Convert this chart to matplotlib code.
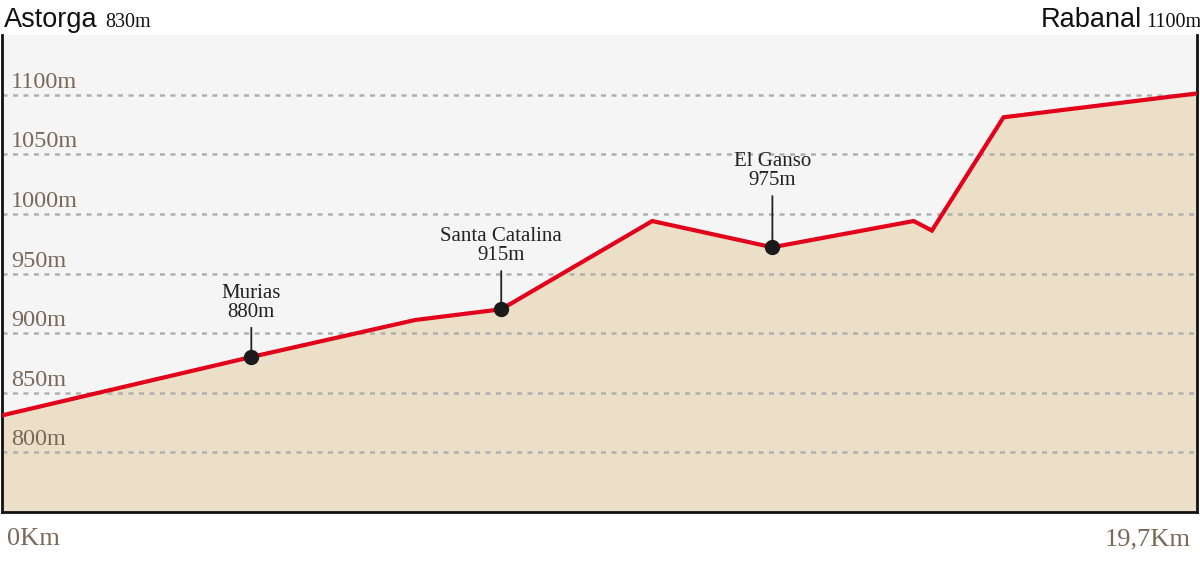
import matplotlib.pyplot as plt
from matplotlib.transforms import offset_copy

# Elevation profile Astorga -> Rabanal
km = [0.0, 4.11, 6.81, 8.23, 10.72, 12.70, 15.03, 15.33, 16.51, 19.7]
alt = [831, 880, 911, 920, 994, 972, 994, 986, 1081, 1101]

# Towns along the way
towns = ['Murias', 'Santa Catalina', 'El Ganso']
town_km = [4.11, 8.23, 12.70]
town_alt = [880, 920, 972]
town_lbl = ['880m', '915m', '975m']
town_off = [32, 41, 54]   # stick length in px

grid_levels = [800, 850, 900, 950, 1000, 1050, 1100]
grid_labels = ['800m', '850m', '900m', '950m', '1000m', '1050m', '1100m']

serif = 'Liberation Serif'
sans = 'Liberation Sans'
brown = '#786958'

fig = plt.figure(figsize=(12, 5.61), dpi=100)
ax = fig.add_axes([2/1200, 49/561, 1195/1200, 477/561])
ax.set_facecolor('#f5f5f5')
ax.set_xlim(0, 19.7)
ax.set_ylim(750, 1150)

ax.fill_between(km, alt, 700, color='#ecdfc7', zorder=1)
for g in grid_levels:
    ax.axhline(g, color='#b0b0b0', lw=1.8, ls=(0, (2, 2.2)), zorder=2)
ax.plot(km, alt, color='#e2001a', lw=3, zorder=3, solid_joinstyle='miter')

for g, lbl in zip(grid_levels, grid_labels):
    t = offset_copy(ax.transData, fig=fig, x=0, y=5, units='points')
    ax.text(0.15, g, lbl, transform=t, fontsize=17.5, family=serif,
            color=brown, ha='left', va='baseline', zorder=4)

for name, x, y, lbl, off in zip(towns, town_km, town_alt, town_lbl, town_off):
    ax.annotate('', xy=(x, y), xytext=(0, off * 0.72), textcoords='offset points',
                arrowprops=dict(arrowstyle='-', color='#222222', lw=1.3), zorder=5)
    ax.plot([x], [y], 'o', color='#1a1a1a', ms=10, zorder=6)
    ax.annotate(name + '\n' + lbl, xy=(x, y), xytext=(0, off * 0.72 + 2),
                textcoords='offset points', ha='center', va='bottom',
                fontsize=15, family=serif, color='#222222', linespacing=1.0,
                zorder=6)

ax.spines['top'].set_visible(False)
for s in ['left', 'right', 'bottom']:
    ax.spines[s].set_color('#111111')
    ax.spines[s].set_linewidth(2)
ax.set_xticks([])
ax.set_yticks([])

# headings
fig.text(4/1200, 1 - 27/561, 'Astorga', family=sans, fontsize=19.5, color='#111111')
fig.text(105/1200, 1 - 27/561, '830m', family=serif, fontsize=14.5, color='#111111')
fig.text(1041/1200, 1 - 27/561, 'Rabanal', family=sans, fontsize=19.5, color='#111111')
fig.text(1146/1200, 1 - 27/561, '1100m', family=serif, fontsize=14.5, color='#111111')

fig.text(7/1200, 1 - 545/561, '0Km', family=serif, fontsize=19, color=brown)
fig.text(1191/1200, 1 - 545/561, '19,7Km', family=serif, fontsize=19, color=brown, ha='right')

fig.savefig('out.png', dpi=100, facecolor='white')
